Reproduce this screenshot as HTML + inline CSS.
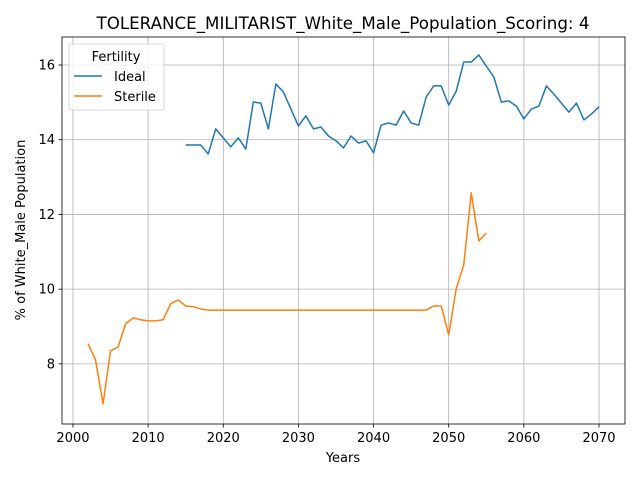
<!DOCTYPE html>
<html><head><meta charset="utf-8"><style>body{margin:0;background:#fff}svg{font-family:"DejaVu Sans","Liberation Sans",sans-serif}</style></head>
<body>
<svg id="chart" width="640" height="480" viewBox="0 0 640 480">
<rect width="640" height="480" fill="#fff"/>
<g id="grid"></g><g id="series"></g><g id="axes"></g>
</svg>
<script>
const idealYears=[];for(let y=2015;y<=2070;y++)idealYears.push(y);
const idealValues=[13.86,13.86,13.86,13.62,14.29,14.05,13.81,14.05,13.75,15.01,14.98,14.29,15.49,15.28,14.82,14.37,14.64,14.29,14.34,14.10,13.97,13.78,14.10,13.91,13.97,13.65,14.39,14.45,14.39,14.77,14.45,14.39,15.14,15.44,15.44,14.93,15.30,16.08,16.08,16.27,15.97,15.68,15.01,15.04,14.90,14.56,14.82,14.90,15.44,15.22,14.98,14.74,14.98,14.53,14.69,14.88];
const sterileYears=[];for(let y=2002;y<=2055;y++)sterileYears.push(y);
const sterileValues=[8.54,8.11,6.93,8.35,8.45,9.07,9.23,9.18,9.15,9.15,9.18,9.61,9.71,9.55,9.53,9.47,9.44,9.44,9.44,9.44,9.44,9.44,9.44,9.44,9.44,9.44,9.44,9.44,9.44,9.44,9.44,9.44,9.44,9.44,9.44,9.44,9.44,9.44,9.44,9.44,9.44,9.44,9.44,9.44,9.44,9.44,9.55,9.55,8.78,10.01,10.65,12.58,11.29,11.50];
const xTicks=[2000,2010,2020,2030,2040,2050,2060,2070];
const yTicks=[8,10,12,14,16];
const L=62,R=625,T=37,B=424,xMin=1998.54,xMax=2073.46,yMin=6.39,yMax=16.75;
const sx=v=>L+(v-xMin)/(xMax-xMin)*(R-L), sy=v=>B-(v-yMin)/(yMax-yMin)*(B-T);
const NS="http://www.w3.org/2000/svg";
function mk(p,tag,at){const e=document.createElementNS(NS,tag);for(const k in at)e.setAttribute(k,at[k]);p.appendChild(e);return e;}
const g=document.getElementById('grid'),s=document.getElementById('series'),a=document.getElementById('axes');
xTicks.forEach(t=>{const x=sx(t);
const gl=mk(g,'line',{x1:x,x2:x,y1:T,y2:B,stroke:'#b0b0b0','stroke-width':0.8});

mk(a,'line',{x1:x,x2:x,y1:B,y2:B+3.5,stroke:'#000','stroke-width':0.8});
const tx=mk(a,'text',{x:x,y:B+18,'text-anchor':'middle','font-size':13});tx.textContent=t;
});
yTicks.forEach(t=>{const y=sy(t);
const gl=mk(g,'line',{x1:L,x2:R,y1:y,y2:y,stroke:'#b0b0b0','stroke-width':0.8});

mk(a,'line',{x1:L-3.5,x2:L,y1:y,y2:y,stroke:'#000','stroke-width':0.8});
const tx=mk(a,'text',{x:L-7,y:y+4.5,'text-anchor':'end','font-size':13});tx.textContent=t;
});
function line(xs,vs,c,n){const p=mk(s,'polyline',{points:xs.map((x,i)=>sx(x)+','+sy(vs[i])).join(' '),fill:'none',stroke:c,'stroke-width':1.5,'stroke-linejoin':'round'});
}
line(idealYears,idealValues,'#1f77b4','ideal-line');
line(sterileYears,sterileValues,'#ff7f0e','sterile-line');
const fr=mk(a,'rect',{x:L,y:T,width:R-L,height:B-T,fill:'none',stroke:'#000','stroke-width':0.8});

</script>
<svg style="position:absolute;left:0;top:0" width="640" height="480">
<text x="343" y="29" text-anchor="middle" font-size="16.7">TOLERANCE_MILITARIST_White_Male_Population_Scoring: 4</text>
<text x="343" y="462" text-anchor="middle" font-size="13">Years</text>
<text x="25" y="230" text-anchor="middle" font-size="13" transform="rotate(-90 25 230)">% of White_Male Population</text>
<g>
<rect x="69" y="44" width="95" height="66" rx="2" fill="#fff" fill-opacity="0.8" stroke="#ccc" stroke-width="0.8"/>
<text x="116" y="61" text-anchor="middle" font-size="13">Fertility</text>
<g><line x1="74" x2="102" y1="76" y2="76" stroke="#1f77b4" stroke-width="1.5"/><text x="114" y="81" font-size="13">Ideal</text></g>
<g><line x1="74" x2="102" y1="96" y2="96" stroke="#ff7f0e" stroke-width="1.5"/><text x="114" y="101" font-size="13">Sterile</text></g>
</g>
</svg>
</body></html>
